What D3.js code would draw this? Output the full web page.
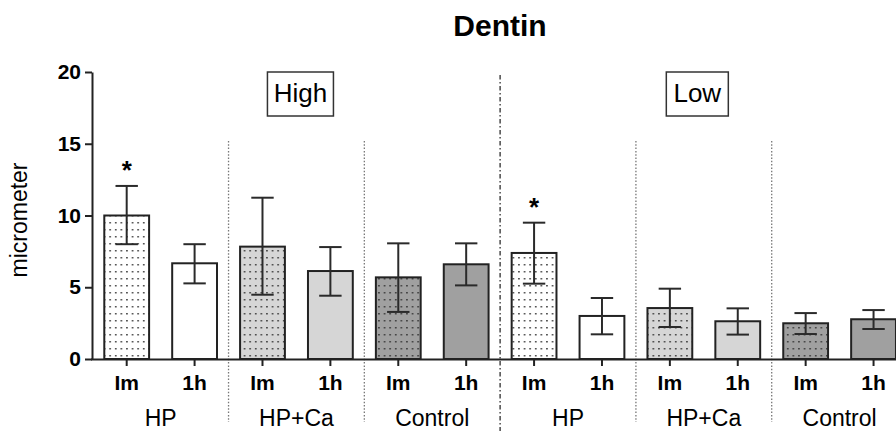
<!DOCTYPE html>
<html>
<head>
<meta charset="utf-8">
<script src="https://cdn.jsdelivr.net/npm/d3@7/dist/d3.min.js"></script>
<style>
  body { margin: 0; background: #fff; }
  svg { display: block; font-family: "Liberation Sans", Arial, sans-serif; }
</style>
</head>
<body>
<div id="chart"></div>
<script>
// Values
const panels = ["High", "Low"]
const treatments = ["HP", "HP+Ca", "Control"]
const times = ["Im", "1h"]
const means = [10.0, 6.67, 7.83, 6.13, 5.69, 6.6, 7.39, 3.0, 3.55, 2.63, 2.49, 2.77]
const errTop = [12.06, 8.0, 11.24, 7.8, 8.06, 8.06, 9.5, 4.25, 4.9, 3.53, 3.2, 3.41]
const errBottom = [8.0, 5.27, 4.48, 4.41, 3.28, 5.13, 5.25, 1.72, 2.23, 1.7, 1.74, 2.09]
const stars = ["*", "", "", "", "", "", "*", "", "", "", "", ""]
const yTicks = [0, 5, 10, 15, 20]

const width = 896
const height = 431

// one bar per panel x treatment x time
const bars = []
panels.forEach((p, pi) => {
  treatments.forEach((t, ti) => {
    times.forEach((tm, ki) => {
      bars.push({panel: p, treatment: t, time: tm, ti: ti, ki: ki})
    })
  })
})
bars.forEach((b, i) => {
  b.i = i
  b.mean = means[i]
  b.hi = errTop[i]
  b.lo = errBottom[i]
  b.star = stars[i]
})

const svg = d3.select("#chart").append("svg")
  .attr("width", width)
  .attr("height", height)

const x = d3.scaleBand()
  .domain(bars.map(d => d.i))
  .range([92.75, 907.5])
  .paddingInner(0.34)
  .paddingOuter(0.17)

const y = d3.scaleLinear()
  .domain([0, 20])
  .range([359, 72])

const cx = i => x(i) + x.bandwidth() / 2

// fill colours per treatment
const baseFill = ["#ffffff", "#d6d6d6", "#a0a0a0"]

const defs = svg.append("defs")
baseFill.forEach((c, k) => {
  const pat = defs.append("pattern")
    .attr("id", "dots" + k)
    .attr("patternUnits", "userSpaceOnUse")
    .attr("width", 5.6)
    .attr("height", 7)
    .attr("x", 1)
    .attr("y", 2)
  pat.append("rect").attr("width", 5.6).attr("height", 7).attr("fill", c)
  pat.append("rect").attr("x", 2).attr("y", 3).attr("width", 1.5).attr("height", 1.5).attr("fill", "#333")
})

// title
svg.append("text")
  .attr("x", 500)
  .attr("y", 36)
  .attr("text-anchor", "middle")
  .style("font-size", "30px")
  .style("font-weight", "bold")
  .text("Dentin")

// group dividers
const sepX = i => (x(i) + x.bandwidth() + x(i + 1)) / 2
;[1, 3, 7, 9].forEach(i => {
  svg.append("line")
    .attr("x1", sepX(i)).attr("x2", sepX(i))
    .attr("y1", 141).attr("y2", 422)
    .attr("stroke", "#777")
    .attr("stroke-width", 1.3)
    .attr("stroke-dasharray", "1.5,1.8")
})
svg.append("line")
  .attr("x1", sepX(5)).attr("x2", sepX(5))
  .attr("y1", 75).attr("y2", height)
  .attr("stroke", "#555")
  .attr("stroke-width", 1.6)
  .attr("stroke-dasharray", "4.5,2.5,1.5,2.5")

// bars
svg.append("g").selectAll("rect")
  .data(bars)
  .join("rect")
  .attr("x", d => x(d.i))
  .attr("y", d => y(d.mean))
  .attr("width", x.bandwidth())
  .attr("height", d => y(0) - y(d.mean))
  .attr("fill", d => d.ki === 0 ? "url(#dots" + d.ti + ")" : baseFill[d.ti])
  .attr("stroke", "#222")
  .attr("stroke-width", 2)

// error bars
const err = svg.append("g").attr("stroke", "#2a2a2a").attr("stroke-width", 2)
bars.forEach(d => {
  const c = cx(d.i)
  const cap = x.bandwidth() / 4
  err.append("line").attr("x1", c).attr("x2", c).attr("y1", y(d.hi)).attr("y2", y(d.lo))
  err.append("line").attr("x1", c - cap).attr("x2", c + cap).attr("y1", y(d.hi)).attr("y2", y(d.hi))
  err.append("line").attr("x1", c - cap).attr("x2", c + cap).attr("y1", y(d.lo)).attr("y2", y(d.lo))
})

// significance stars
svg.append("g").selectAll("text")
  .data(bars.filter(d => d.star))
  .join("text")
  .attr("x", d => cx(d.i))
  .attr("y", d => y(d.hi) - 7)
  .attr("text-anchor", "middle")
  .style("font-size", "26px")
  .style("font-weight", "bold")
  .text(d => d.star)

// y axis
const yAxis = svg.append("g")
  .attr("transform", "translate(92,0)")
  .call(d3.axisLeft(y).tickValues(yTicks).tickSize(7).tickSizeOuter(0).tickPadding(4))
yAxis.select(".domain").attr("stroke", "#222").attr("stroke-width", 2)
yAxis.selectAll(".tick line").attr("stroke", "#222").attr("stroke-width", 2)
yAxis.selectAll(".tick text")
  .style("font-size", "21px")
  .style("font-weight", "bold")
  .style("font-family", "Liberation Sans, Arial, sans-serif")
  .attr("fill", "#000")

svg.append("text")
  .attr("transform", "translate(27,220) rotate(-90)")
  .attr("text-anchor", "middle")
  .style("font-size", "23px")
  .text("micrometer")

// x axis
const xAxis = svg.append("g")
  .attr("transform", "translate(0,359)")
  .call(d3.axisBottom(x).tickSize(7).tickSizeOuter(0).tickPadding(9)
    .tickFormat(i => bars[i].time))
xAxis.select(".domain").attr("stroke", "#222").attr("stroke-width", 2)
  .attr("d", "M91," + 0.5 + "H" + width)
xAxis.selectAll(".tick line").attr("stroke", "#222").attr("stroke-width", 2)
xAxis.selectAll(".tick text")
  .style("font-size", "21px")
  .style("font-weight", "bold")
  .style("font-family", "Liberation Sans, Arial, sans-serif")
  .attr("fill", "#000")

// treatment labels
const groups = []
panels.forEach((p, pi) => treatments.forEach((t, ti) => groups.push({name: t, first: pi * 6 + ti * 2})))
svg.append("g").selectAll("text")
  .data(groups)
  .join("text")
  .attr("x", d => (cx(d.first) + cx(d.first + 1)) / 2)
  .attr("y", 426)
  .attr("text-anchor", "middle")
  .style("font-size", "23px")
  .text(d => d.name)

// panel boxes
const panelBox = [{name: "High", shift: 4}, {name: "Low", shift: -6.5}]
panelBox.forEach((p, pi) => {
  const c = (cx(pi * 6) + cx(pi * 6 + 5)) / 2 + p.shift
  const w = p.name === "High" ? 66 : 62
  svg.append("rect")
    .attr("x", c - w / 2)
    .attr("y", 72)
    .attr("width", w)
    .attr("height", 44)
    .attr("fill", "#fff")
    .attr("stroke", "#333")
    .attr("stroke-width", 1.5)
  svg.append("text")
    .attr("x", c)
    .attr("y", 102)
    .attr("text-anchor", "middle")
    .style("font-size", "26px")
    .text(p.name)
})
</script>
</body>
</html>
